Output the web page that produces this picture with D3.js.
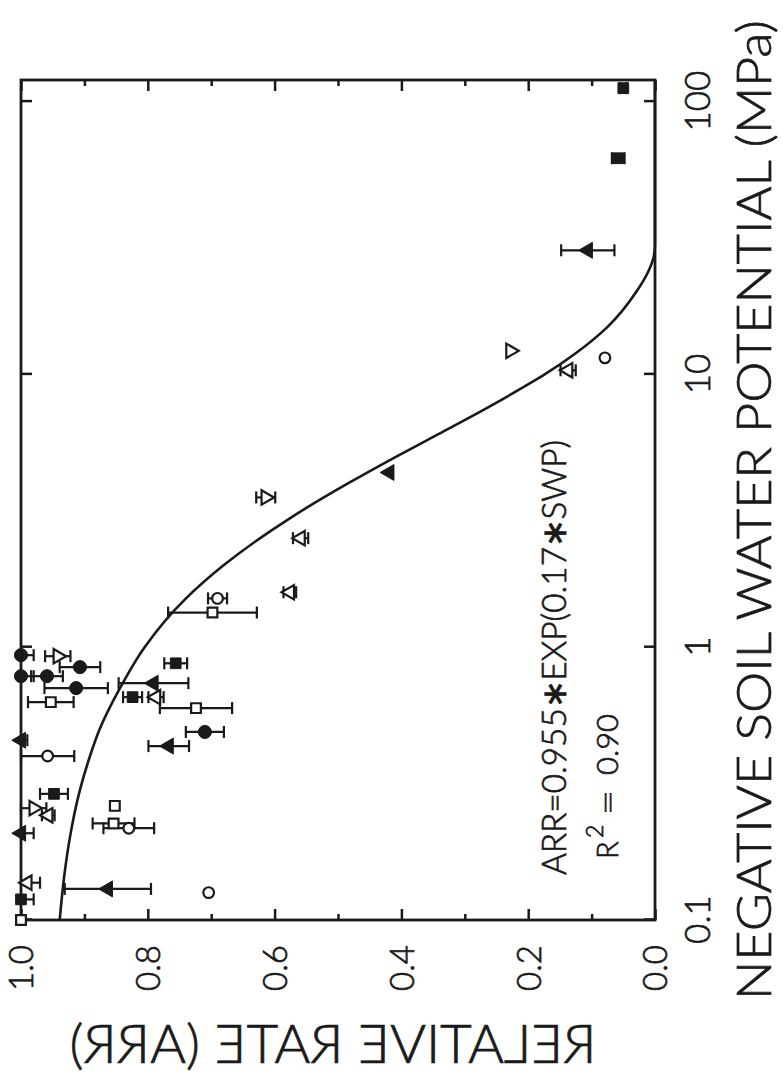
<!DOCTYPE html>
<html><head><meta charset="utf-8">
<script src="https://cdn.jsdelivr.net/npm/d3@7"></script>
<style>body{margin:0;background:#fff}svg{display:block}</style>
</head><body>
<svg id="c" width="783" height="1076"></svg>
<script>
// ---- data ----
const swpTicks = [0.1, 1, 10, 100];
const swpTickLabels = ["0.1", "1", "10", "100"];
const arrTicks = [0, 0.2, 0.4, 0.6, 0.8, 1.0];
const arrTickLabels = ["0.0", "0.2", "0.4", "0.6", "0.8", "1.0"];
const arrMinorTicks = [0.1, 0.3, 0.5, 0.7, 0.9];

const fitSWP = [0.1, 0.15, 0.2, 0.3, 0.4, 0.5, 0.7, 1, 1.5, 2, 3, 4, 5, 6, 7, 8, 9, 10, 12, 15, 20, 24, 27, 30, 60, 120];
const fitARR = [0.939, 0.931, 0.923, 0.907, 0.891, 0.876, 0.845, 0.805, 0.741, 0.680, 0.573, 0.483, 0.408, 0.344, 0.290, 0.245, 0.207, 0.174, 0.124, 0.074, 0.030, 0.010, 0.002, 0, 0, 0];

// [SWP (MPa), ARR, error]
const filledCircles = [[0.935, 1.0, 0.02], [0.845, 0.907, 0.032], [0.783, 1.0, 0.02], [0.783, 0.959, 0.025], [0.708, 0.913, 0.05], [0.489, 0.710, 0.03]];
const openCircles = [[11.5, 0.079, 0], [1.51, 0.690, 0.015], [0.399, 0.958, 0.042], [0.217, 0.830, 0.04], [0.126, 0.704, 0]];
const filledSquares = [[112, 0.050, 0.005], [62, 0.058, 0.01], [0.873, 0.756, 0.018], [0.656, 0.824, 0.015], [0.290, 0.948, 0.022], [0.119, 1.0, 0.02]];
const openSquares = [[1.34, 0.698, 0.07], [0.629, 0.953, 0.036], [0.598, 0.724, 0.057], [0.262, 0.852, 0], [0.226, 0.854, 0.033], [0.1, 1.0, 0]];
const filledTriangles = [[28.5, 0.106, 0.042], [4.37, 0.419, 0], [0.738, 0.791, 0.055], [0.456, 1.0, 0.01], [0.434, 0.767, 0.032], [0.208, 1.0, 0.02], [0.130, 0.863, 0.068]];
const openTrianglesUp = [[10.35, 0.137, 0.012], [2.51, 0.559, 0.012], [1.59, 0.576, 0.01], [0.656, 0.787, 0.012], [0.242, 0.957, 0.01], [0.137, 0.99, 0.02]];
const openTrianglesDown = [[12.2, 0.228, 0], [3.54, 0.614, 0.015], [0.927, 0.942, 0.02], [0.257, 0.980, 0.02]];

// ---- drawing ----
const FONT = "Lato, 'Open Sans', 'Liberation Sans', sans-serif";
const FW = 300;
const INK = "#1a1a1a";
const W = 840, H = 634;           // plot size in the un-rotated frame
const svg = d3.select("#c");
svg.append("rect").attr("width", 783).attr("height", 1076).attr("fill", "#fff");

const x = d3.scaleLog().domain([0.1, 120]).range([0, W]);
const y = d3.scaleLinear().domain([0, 1]).range([H, 0]);

// whole chart is turned a quarter turn counter-clockwise
const g = svg.append("g").attr("transform", "translate(21,920) rotate(-90)");

function textStyle(sel, fs) {
  sel.attr("font-family", FONT).attr("font-weight", FW).attr("font-size", fs)
    .attr("fill", INK).attr("stroke", INK).attr("stroke-width", 0.7);
}
function styleAxis(sel, fs) {
  sel.select(".domain").remove();
  sel.selectAll(".tick line").attr("stroke", INK).attr("stroke-width", 2.5);
  sel.selectAll(".tick text").call(t => textStyle(t, fs));
}

// x axis (SWP) – labelled side
g.append("g").attr("transform", `translate(0,${H})`)
  .call(d3.axisBottom(x).tickValues(swpTicks).tickSize(-11).tickPadding(30)
    .tickFormat((d, i) => swpTickLabels[i]))
  .call(s => styleAxis(s, 35));
g.append("g")
  .call(d3.axisTop(x).tickValues(swpTicks).tickSize(-11).tickFormat(""))
  .call(s => styleAxis(s, 35));

// y axis (ARR)
const yl = g.append("g")
  .call(d3.axisLeft(y).tickValues(arrTicks).tickSize(-11).tickPadding(25)
    .tickFormat((d, i) => arrTickLabels[i]))
  .call(s => styleAxis(s, 33));
yl.selectAll(".tick text").attr("dy", "0.36em");
g.append("g")
  .call(d3.axisLeft(y).tickValues(arrMinorTicks).tickSize(-6).tickFormat(""))
  .call(s => styleAxis(s, 33));
g.append("g").attr("transform", `translate(${W},0)`)
  .call(d3.axisRight(y).tickValues(arrTicks).tickSize(-11).tickFormat(""))
  .call(s => styleAxis(s, 33));
g.append("g").attr("transform", `translate(${W},0)`)
  .call(d3.axisRight(y).tickValues(arrMinorTicks).tickSize(-6).tickFormat(""))
  .call(s => styleAxis(s, 33));

// frame
g.append("rect").attr("width", W).attr("height", H)
  .attr("fill", "none").attr("stroke", INK).attr("stroke-width", 2.8);

// fitted curve
const fit = fitSWP.map((s, i) => [s, fitARR[i]]);
g.append("path").datum(fit)
  .attr("fill", "none").attr("stroke", INK).attr("stroke-width", 2.6)
  .attr("d", d3.line().x(d => x(d[0])).y(d => y(d[1])).curve(d3.curveMonotoneX));

// error bars
const allSeries = [
  { data: filledCircles, type: d3.symbolCircle, size: 135, filled: true },
  { data: openCircles, type: d3.symbolCircle, size: 90, filled: false },
  { data: filledSquares, type: d3.symbolSquare, size: 115, filled: true },
  { data: openSquares, type: d3.symbolSquare, size: 95, filled: false },
  { data: filledTriangles, type: d3.symbolTriangle, size: 110, filled: true },
  { data: openTrianglesUp, type: d3.symbolTriangle, size: 90, filled: false },
  { data: openTrianglesDown, type: d3.symbolTriangle, size: 90, filled: false, down: true }
];
const eb = g.append("g").attr("stroke", INK).attr("stroke-width", 2.2);
const cap = 6;
allSeries.forEach(s => {
  s.data.filter(d => d[2] > 0).forEach(d => {
    const cx = x(d[0]);
    const hi = Math.min(d[1] + d[2], 1), lo = d[1] - d[2];
    eb.append("line").attr("x1", cx).attr("x2", cx).attr("y1", y(hi)).attr("y2", y(lo));
    eb.append("line").attr("x1", cx - cap).attr("x2", cx + cap).attr("y1", y(lo)).attr("y2", y(lo));
    if (d[1] + d[2] <= 1) eb.append("line").attr("x1", cx - cap).attr("x2", cx + cap).attr("y1", y(hi)).attr("y2", y(hi));
  });
});

// markers
allSeries.forEach(s => {
  g.append("g").selectAll("path").data(s.data).join("path")
    .attr("d", d3.symbol().type(s.type).size(s.size))
    .attr("transform", d => `translate(${x(d[0])},${y(d[1])})${s.down ? " rotate(180)" : ""}`)
    .attr("fill", s.filled ? INK : "#fff")
    .attr("stroke", INK).attr("stroke-width", s.filled ? 1 : 2.2);
});

// equation text
g.append("text").attr("x", 45).attr("y", 545)
  .call(t => textStyle(t, 34))
  .attr("textLength", 435).attr("lengthAdjust", "spacingAndGlyphs")
  .text("ARR=0.955\u2217EXP(0.17\u2217SWP)");
const r2 = g.append("text").attr("y", 597).call(t => textStyle(t, 29));
r2.append("tspan").attr("x", 61).text("R");
r2.append("tspan").attr("x", 82).attr("dy", -15).attr("font-size", 23).text("2");
r2.append("tspan").attr("x", 105).attr("dy", 15).attr("textLength", 25).attr("lengthAdjust", "spacingAndGlyphs").text("=");
r2.append("tspan").attr("x", 145).attr("textLength", 61).attr("lengthAdjust", "spacingAndGlyphs").text("0.90");

// x-axis title
g.append("text").attr("x", -80).attr("y", 750)
  .call(t => textStyle(t, 47))
  .attr("textLength", 980).attr("lengthAdjust", "spacingAndGlyphs")
  .text("NEGATIVE SOIL WATER POTENTIAL (MPa)");

// y-axis title (mirrored in the original)
svg.append("g").attr("transform", "translate(333,1063) scale(-1,1)")
  .append("text")
  .attr("text-anchor", "middle")
  .call(t => textStyle(t, 54))
  .attr("textLength", 527).attr("lengthAdjust", "spacingAndGlyphs")
  .text("RELATIVE RATE (ARR)");
</script>
</body></html>
